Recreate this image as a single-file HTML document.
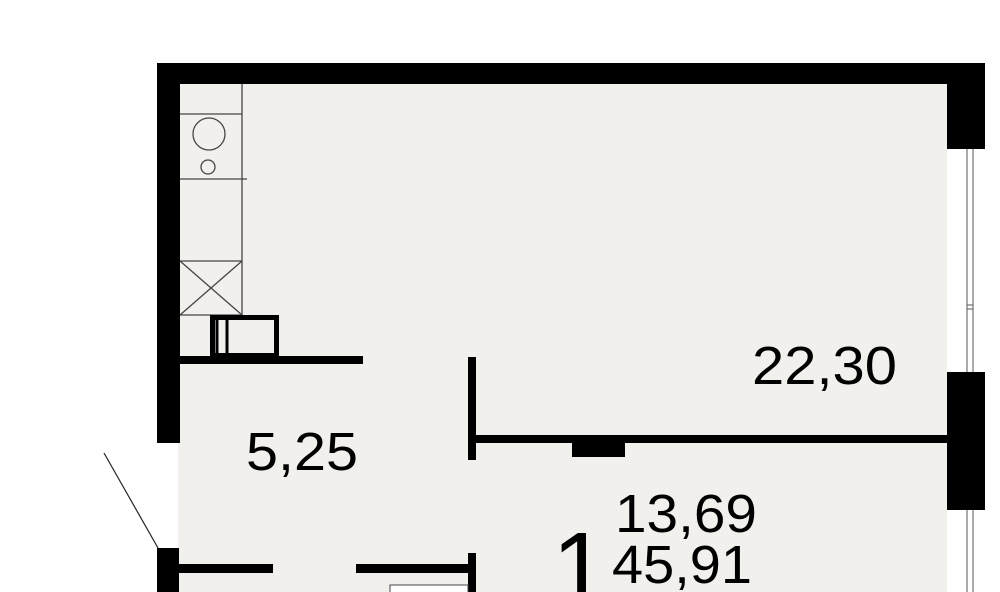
<!DOCTYPE html>
<html><head><style>
html,body{margin:0;padding:0;background:#fff;overflow:hidden;width:1000px;height:592px;}
svg{display:block}
text{font-family:"Liberation Sans",sans-serif;fill:#000}
</style></head><body>
<svg width="1000" height="592" viewBox="0 0 1000 592">
<rect x="0" y="0" width="1000" height="592" fill="#fff"/>
<rect x="178" y="84" width="770" height="510" fill="#f2f0ec"/>
<!-- outer walls -->
<rect x="157" y="63" width="828" height="21" fill="#000"/>
<rect x="947" y="63" width="38" height="86" fill="#000"/>
<rect x="157" y="63" width="23" height="380" fill="#000"/>
<rect x="157" y="548" width="22" height="44" fill="#000"/>
<!-- right windows -->
<rect x="947" y="149" width="20" height="223" fill="#fff"/>
<line x1="967" y1="149" x2="967" y2="372" stroke="#555" stroke-width="1"/>
<line x1="973" y1="149" x2="973" y2="372" stroke="#555" stroke-width="1"/>
<line x1="967" y1="305" x2="973" y2="305" stroke="#555" stroke-width="1"/>
<line x1="967" y1="309" x2="973" y2="309" stroke="#555" stroke-width="1"/>
<rect x="947" y="372" width="38" height="138" fill="#000"/>
<rect x="947" y="510" width="20" height="82" fill="#fff"/>
<line x1="967" y1="510" x2="967" y2="592" stroke="#555" stroke-width="1"/>
<line x1="973" y1="510" x2="973" y2="592" stroke="#555" stroke-width="1"/>
<!-- kitchen -->
<g stroke="#444" stroke-width="1.3" fill="none">
<line x1="242" y1="84" x2="242" y2="315"/>
<line x1="180" y1="114" x2="242" y2="114"/>
<line x1="180" y1="179" x2="247" y2="179"/>
<circle cx="209" cy="134" r="16"/>
<circle cx="208" cy="167" r="7"/>
<line x1="180" y1="261" x2="242" y2="261"/>
<line x1="180" y1="261" x2="242" y2="315"/>
<line x1="242" y1="261" x2="180" y2="315"/>
<line x1="180" y1="315" x2="242" y2="315"/>
</g>
<rect x="212.5" y="317.5" width="64" height="38" fill="none" stroke="#000" stroke-width="5"/>
<rect x="217" y="318" width="10" height="37" fill="none" stroke="#000" stroke-width="3"/>
<rect x="180" y="356" width="183" height="8" fill="#000"/>
<!-- partitions -->
<rect x="468" y="357" width="8" height="103" fill="#000"/>
<rect x="476" y="435" width="471" height="8" fill="#000"/>
<rect x="572" y="443" width="53" height="14" fill="#000"/>
<rect x="179" y="564" width="94" height="9" fill="#000"/>
<rect x="356" y="564" width="114" height="9" fill="#000"/>
<rect x="468" y="553" width="8" height="39" fill="#000"/>
<rect x="390" y="585" width="78" height="10" fill="#fff" stroke="#444" stroke-width="1"/>
<line x1="104" y1="453" x2="158" y2="548" stroke="#222" stroke-width="1.2"/>
<!-- labels -->
<text x="752" y="384" font-size="54" textLength="145" lengthAdjust="spacingAndGlyphs">22,30</text>
<text x="246" y="470" font-size="54" textLength="112" lengthAdjust="spacingAndGlyphs">5,25</text>
<text x="615" y="532" font-size="54" textLength="142" lengthAdjust="spacingAndGlyphs">13,69</text>
<text x="612" y="583" font-size="54" textLength="140" lengthAdjust="spacingAndGlyphs">45,91</text>
<text x="552" y="602" font-size="100">1</text>
</svg>
</body></html>
